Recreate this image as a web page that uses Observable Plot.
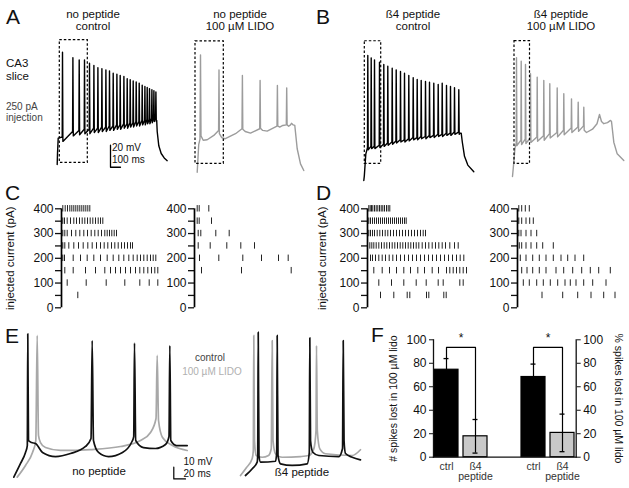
<!DOCTYPE html>
<html><head><meta charset="utf-8">
<script src="https://cdn.jsdelivr.net/npm/d3@7"></script>
<script src="https://cdn.jsdelivr.net/npm/@observablehq/plot@0.6"></script>
<style>
body{margin:0;background:#fff;}
#fig{position:relative;width:629px;height:488px;overflow:hidden;font-family:"Liberation Sans",Arial,sans-serif;color:#111;background:#fff;}
#fig svg{overflow:visible;}
.tx{position:absolute;white-space:nowrap;}
</style></head><body><div id="fig"></div>
<script>
// ---------------- DATA ----------------
// Panel A, no peptide control (ms, mV)
const aCtrlT    = [53,157,220,273,323,367,407,447,487,523,560,597,630,667,700,730,760,790,820,850,877,900,923,947,967,987];
const aCtrlPeak = [32,27,25,25,22,20,18,17,16,15,13,12,11,10,8,7,6,5,4,2,1,0,-1,-2,-3,-4];
const aCtrlThr  = [-45,-40,-39,-38,-38,-37,-37,-36,-36,-35,-35,-34,-34,-33,-33,-32,-32,-31,-31,-30,-30,-29,-29,-28,-27,-27];
const aCtrlAhp  = [-49,-44,-43,-42,-42,-41,-41,-40,-40,-39,-39,-38,-38,-37,-37,-36,-36,-35,-35,-34,-34,-33,-33,-32,-31,-31];
const aCtrlPre  = [[0,-70],[3,-60],[10,-46]];
const aCtrlPost = [[995,-30],[1000,-40],[1016,-53],[1040,-60],[1070,-64],[1100,-66.5]];
// Panel A, no peptide + 100 µM LIDO
const aLido = [[0,-70],[15,-45],[28,-40],[33,36.7],[38,-37],[60,-41],[100,-40.5],[166,-36.6],[214,-32],
  [218,23],[222,-35],[245,-38.5],[276,-39.6],[383,-35],[448,-30.5],[452,18],[456,-31],[480,-33],[533,-34.5],
  [625,-30.5],[629,13.4],[633,-30],[655,-32],[700,-32.7],[798,-28.2],[802,8.8],[806,-28],[825,-29],[856,-27.5],
  [891,-27],[895,6.7],[899,-27],[915,-28.2],[933,-27],[943,-25.5],[960,-27],[976,-27.5],[1000,-48.7],[1033,-62.4],[1066,-68.5]];
// Panel B, ß4 peptide control
const bCtrlT    = [40,74,107,157,200,240,284,324,367,407,450,494,534,574,617,657,700,744,784,827,867,907,950];
const bCtrlPeak = [43.6,41.5,39.7,37.5,35.5,33.9,32.1,30.6,29.1,27.5,25.5,23.4,21.8,20.9,20,19.4,18.5,17.3,18.5,16.4,15.5,14.3,12.5];
const bCtrlThr  = [-40,-39,-39,-38,-37,-36,-35,-34,-33,-33,-32,-31,-31,-30,-30,-29,-29,-28,-28,-27,-27,-26,-26];
const bCtrlAhp  = [-42,-41,-41,-40,-39,-38,-37,-36,-35,-35,-34,-33,-33,-32,-32,-31,-31,-30,-30,-29,-29,-28,-28];
const bCtrlPre  = [[0,-70],[5,-66],[20,-46]];
const bCtrlPost = [[960,-27],[974,-27],[985,-35],[1007,-48],[1040,-56],[1100,-62]];
// Panel B, ß4 peptide + 100 µM LIDO
const bLidoT    = [40,87,130,180,247,313,373,447,513,590,657,713];
const bLidoPeak = [37.9,34.8,31.8,23.4,20.3,17.3,14.3,10.6,5.2,0.6,-2.5,-7];
const bLidoThr  = [-40,-37,-36,-35,-34,-33,-31,-30,-28,-26,-25,-24];
const bLidoAhp  = [-42,-41,-40,-39,-38,-37,-35,-34,-32,-30,-29,-28];
const bLidoPre  = [[0,-70],[8,-62],[25,-44]];
const bLidoPost = [[740,-30],[800,-27],[845,-22],[870,-13.6],[890,-20],[913,-22],[950,-21],[980,-19],[990,-20],[1013,-38.8],[1047,-49.4],[1113,-55.5]];
// expanded windows (ms) marked by dashed boxes
const windowACtrl = [26, 306], windowALido = [-17, 266], windowBCtrl = [10, 174], windowBLido = [20, 175];

// Panels C / D: spike times (ms) per injected current (pA)
const rasterCCtrl = [
  [400,[3,27,50,73,93,113,133,153,173,193,213,233,253,273]],
  [350,[3,20,47,80,113,140,170,197,223,250,277,303,330,357,380,403]],
  [300,[3,23,47,90,133,173,213,250,287,323,357,390,423,447,470,493,517,540]],
  [250,[3,23,63,113,160,207,253,297,340,380,417,453,490,523,557,590,620,650,680,700]],
  [200,[3,20,107,180,247,313,380,447,507,563,613,663,707,747,780,813,847,880,907,933]],
  [150,[23,107,230,330,423,480,530,580,630,680,730,773,813,853,890,923,953]],
  [100,[47,237,437,623,773,867,953]],
  [50,[153]]];
const rasterCLido = [
  [400,[17,37,133]],[350,[17,37,160]],[300,[27,53,203,337]],[250,[27,147,313,453,590]],
  [200,[40,233,473,660,830,927]],[150,[60,460,957]]];
const rasterDCtrl = [
  [400,[3,17,30,43,60,77,93,110,127,143,160,180,197,213]],
  [350,[3,20,40,60,80,100,120,140,160,180,200,220,240,260,280,300,320,340,360,377]],
  [300,[3,20,40,60,87,113,140,167,193,220,250,280,310,340,370,400,430,460,490,520,547,570]],
  [250,[13,33,53,77,103,130,157,183,210,237,263,290,317,343,370,397,423,450,477,503,537,570,603,637,670,703,737,770,813,860,897]],
  [200,[20,40,70,103,137,170,207,243,280,320,360,400,440,480,520,560,600,640,680,720,760,800,840,880,917,953]],
  [150,[53,137,210,280,353,420,493,560,637,700,780,813,847,880,913,947,980]],
  [100,[103,230,353,477,577,697,747,913,947]],
  [50,[120,253,387,413,580,603,753,777]]];
const rasterDLido = [
  [400,[3,32,68,108]],[350,[3,32,75,112,148]],[300,[3,25,75,125,182]],[250,[8,32,75,125,182,242,348]],
  [200,[18,75,142,208,275,348,425,492,565,652]],
  [150,[32,85,142,208,275,375,452,542,632,718,802,918]],
  [100,[48,108,182,248,318,392,465,518,575,652,742,875]],
  [50,[235,442,592,725,852,965]]];
const currentTicks = [0,100,200,300,400], currentMinor = [50,150,250,350];

// Panel E: expanded traces (ms, mV)
const eNoPepCtrl = [[0,-78.5],[11.5,-66.8],[20,-57.4],[23.1,-51.5],[23.9,44],[25.1,-47.2],[30.3,-48.9],[37.1,-49.7],
  [49.1,-57.4],[71.3,-60.9],[96.9,-58.3],[122.6,-52.3],[132,-45.5],[134,38.3],[136.2,-47.2],[144.8,-57.4],
  [161.9,-60.9],[185.8,-57.4],[201.2,-48.9],[205,-43.8],[206.3,36],[208.4,-47.2],[221.7,-53.2],[242.2,-54],
  [259.3,-50.6],[265.3,-43.8],[266.7,34],[268.4,-47.2],[278.1,-51.5],[296.4,-51.5]];
const eNoPepLido = [[5.8,-78.5],[20,-68.5],[32,-57.4],[37.6,-47.2],[40,42.6],[42.2,-42.9],[45.6,-48.9],[54.2,-53.2],
  [79.8,-55.7],[131.1,-54.9],[182.4,-52.3],[216.6,-47.2],[233.7,-40.3],[243.1,-28.4],[245.1,25.5],[247.4,-30.1],
  [254.2,-44.6],[271.3,-51.5],[296.4,-55.7]];
const eB4Ctrl = [[8.5,-77.1],[20.5,-71.1],[28.5,-65.7],[29.4,-60],[30.3,45.4],[31.6,-60],[34.2,-65.7],[59.8,-64.9],
  [61.9,-57.4],[62.7,42.6],[64.1,-60],[68.4,-67.1],[88.4,-68.5],[114,-67.1],[117.6,-57.4],[118.5,40.6],[119.7,-47.2],
  [123.6,-57.2],[133.9,-60],[168.1,-60.9],[174.4,-54],[175.6,38.3],[177,-47.2],[179.5,-58.3],[191,-61.5],[205.1,-63.7]];
const eB4Lido = [[0,-77.1],[10.3,-70.3],[20,-62.6],[21.9,-55.7],[22.7,42.6],[23.9,-47.2],[26.8,-60],[37.1,-61.5],
  [47.9,-60],[52.6,-54],[54.2,38.3],[55.6,-47.2],[59.8,-58.5],[71.3,-61.5],[102.6,-60.9],[116.8,-60],[125.3,-54.3],
  [129.1,-38.6],[129.9,34],[131.3,-38.6],[135.6,-54.3],[145.3,-58.5],[191,-60],[205.1,-55.1]];

// Panel F: spikes lost in 100 µM lido
const fGroups = ["#", "#", "%", "%"];
const fConds  = ["ctrl", "ß4 peptide", "ctrl", "ß4 peptide"];
const fMeans  = [74.5, 17.8, 68.3, 20.7];
const fErrs   = [9.5, 14.3, 11, 16];
const fSigY   = 93.5;
const fTicks  = [0,20,40,60,80,100];

// ---------------- DRAWING ----------------
const W = 629, H = 488;
const FONT = '"Liberation Sans", Arial, Helvetica, sans-serif';
const baseStyle = {fontFamily: FONT, background: "transparent", overflow: "visible", color: "#111"};
const fig = document.getElementById("fig");
function place(el, left = 0, top = 0) {
  el.style.position = "absolute"; el.style.left = left + "px"; el.style.top = top + "px";
  fig.appendChild(el);
}
function text(str, x, y, {size = 11.5, color = "#111", align = "center"} = {}) {
  const d = document.createElement("div");
  d.className = "tx"; d.textContent = str;
  d.style.fontSize = size + "px"; d.style.lineHeight = size + "px"; d.style.color = color;
  d.style.left = x + "px"; d.style.top = (y - size / 2) + "px";
  if (align === "center") d.style.transform = "translateX(-50%)";
  fig.appendChild(d);
}
function spikeTrain(pre, t, peak, thr, ahp, post) {
  const pts = pre.slice();
  t.forEach((ti, i) => pts.push([ti - 3, thr[i]], [ti, peak[i]], [ti + 4, ahp[i]]));
  return pts.concat(post);
}
// full-figure overlay with a trace coordinate system: t=0 at pixel x0, v=vref at pixel y0
function overlay({x0, y0, kx, ky, vref}, marks) {
  const p = Plot.plot({
    width: W, height: H, margin: 0, axis: null,
    x: {type: "linear", domain: [-x0 / kx, (W - x0) / kx], range: [0, W]},
    y: {type: "linear", domain: [vref - (H - y0) / ky, vref + y0 / ky], range: [H, 0]},
    style: baseStyle, marks
  });
  place(p, 0, 0);
}
const tr = (pts, stroke, sw = 1.4, curve = "linear") =>
  Plot.line(pts, {x: d => d[0], y: d => d[1], stroke, strokeWidth: sw, curve, strokeLinejoin: "round"});
const box = (win, vlo, vhi) =>
  Plot.rect([win], {x1: d => d[0], x2: d => d[1], y1: vlo, y2: vhi, fill: "none", stroke: "#000", strokeWidth: 1.2, strokeDasharray: "2.5,2"});

const BLACK = "#000", GREY = "#9c9c9c";
// Panel A
overlay({x0: 56.7, y0: 164, kx: 0.1, ky: 1.1, vref: -70}, [
  tr(spikeTrain(aCtrlPre, aCtrlT, aCtrlPeak, aCtrlThr, aCtrlAhp, aCtrlPost), BLACK),
  box(windowACtrl, -68.5, 43),
  Plot.line([[533, -52.5], [533, -72.5], [633, -72.5]], {x: d => d[0], y: d => d[1], stroke: "#000", strokeWidth: 1.3})
]);
overlay({x0: 196.7, y0: 171.7, kx: 0.1, ky: 1.1, vref: -70}, [
  tr(aLido, GREY), box(windowALido, -62.4, 49)
]);
// Panel B
overlay({x0: 363.3, y0: 180, kx: 0.1, ky: 1.1, vref: -70}, [
  tr(spikeTrain(bCtrlPre, bCtrlT, bCtrlPeak, bCtrlThr, bCtrlAhp, bCtrlPost), BLACK),
  box(windowBCtrl, -54.8, 56.6)
]);
overlay({x0: 512, y0: 176, kx: 0.1, ky: 1.1, vref: -70}, [
  tr(spikeTrain(bLidoPre, bLidoT, bLidoPeak, bLidoThr, bLidoAhp, bLidoPost), GREY),
  box(windowBLido, -58.5, 53)
]);
// Panel E
overlay({x0: 13.3, y0: 455, kx: 0.585, ky: 1.17, vref: -60}, [
  tr(eNoPepLido, "#a8a8a8", 1.7, "monotone-x"),
  tr(eNoPepCtrl, "#111", 1.7, "monotone-x"),
  Plot.line([[273.5, -70], [273.5, -80], [293.5, -80]], {x: d => d[0], y: d => d[1], stroke: "#000", strokeWidth: 1.2})
]);
overlay({x0: 240, y0: 455, kx: 0.585, ky: 1.17, vref: -60}, [
  tr(eB4Lido, "#a8a8a8", 1.7, "monotone-x"),
  tr(eB4Ctrl, "#111", 1.7, "monotone-x")
]);

// Panels C / D rasters
function raster(rows, axisPx, ylabel, labelDx) {
  const data = rows.flatMap(([cur, ts]) => ts.map(t => ({cur, t})));
  const mL = 61;
  const p = Plot.plot({
    width: mL + 101 + 14, height: 130, marginLeft: mL, marginRight: 14, marginTop: 18.3, marginBottom: 12.7,
    x: {domain: [-10, 1000], axis: null},
    y: {domain: [0, 400], axis: null},
    style: baseStyle,
    marks: [
      Plot.ruleX(data, {x: "t", y1: d => d.cur - 13, y2: d => d.cur + 13, stroke: "#222", strokeWidth: 1}),
      Plot.axisY({ticks: currentTicks, tickSize: 6, tickPadding: 2, fontSize: 12, label: null, strokeWidth: 1.3}),
      Plot.axisY({ticks: currentMinor, tickSize: 6, tickFormat: () => "", label: null, strokeWidth: 1.3}),
      Plot.ruleX([-10], {stroke: "#000", strokeWidth: 1.7}),
      ylabel ? Plot.text([ylabel], {frameAnchor: "left", textAnchor: "middle", dx: labelDx, rotate: -90, fontSize: 11.5}) : null
    ]
  });
  place(p, axisPx - mL, 190);
}
raster(rasterCCtrl, 61, "injected current (pA)", -51);
raster(rasterCLido, 194, null, 0);
raster(rasterDCtrl, 367.3, "injected current (pA)", -45);
raster(rasterDLido, 516.7, null, 0);

// Panel F bars
const fKey = (g, c) => g + "|" + c;
const fBars = fMeans.map((m, i) => ({key: fKey(fGroups[i], fConds[i]), cond: fConds[i], group: fGroups[i], mean: m, err: fErrs[i]}));
const fDomain = [fKey("#", "ctrl"), fKey("#", "ß4 peptide"), "gap", fKey("%", "ctrl"), fKey("%", "ß4 peptide")];
const fBrackets = ["#", "%"].flatMap(g => {
  const c = fBars.find(d => d.group === g && d.cond === "ctrl");
  const b = fBars.find(d => d.group === g && d.cond !== "ctrl");
  return [[c.key, c.mean + c.err, g], [c.key, fSigY, g], [b.key, fSigY, g], [b.key, b.mean + b.err, g]];
});
const fPlot = Plot.plot({
  width: 259, height: 168, marginLeft: 63, marginRight: 53.3, marginTop: 19.3, marginBottom: 31.3,
  x: {domain: fDomain, paddingInner: 0.18, paddingOuter: 0.03, axis: null},
  y: {domain: [0, 100], axis: null},
  color: {type: "identity"},
  style: baseStyle,
  marks: [
    Plot.barY(fBars, {x: "key", y: "mean", fill: d => d.cond === "ctrl" ? "#000" : "#c9c9c9", stroke: "#000", strokeWidth: 1.2}),
    Plot.ruleX(fBars, {x: "key", y1: d => d.cond === "ctrl" ? d.mean : d.mean - d.err, y2: d => d.mean + d.err, stroke: "#000", strokeWidth: 1.2}),
    Plot.tickY(fBars, {x: "key", y: d => d.mean + d.err, insetLeft: 9.5, insetRight: 9.5, stroke: "#000", strokeWidth: 1.3}),
    Plot.tickY(fBars.filter(d => d.cond !== "ctrl"), {x: "key", y: d => d.mean - d.err, insetLeft: 9.5, insetRight: 9.5, stroke: "#000", strokeWidth: 1.3}),
    Plot.line(fBrackets, {x: d => d[0], y: d => d[1], z: d => d[2], stroke: "#000", strokeWidth: 1.2}),
    Plot.text(fBars.filter(d => d.cond === "ctrl"), {x: "key", y: 101, text: () => "*", dx: 14.6, fontSize: 12}),
    Plot.axisY({anchor: "left", ticks: fTicks, tickSize: 4, tickPadding: 3, fontSize: 12, label: null}),
    Plot.axisY({anchor: "right", ticks: fTicks, tickSize: 4, tickPadding: 3, fontSize: 12, label: null}),
    Plot.axisX({ticks: fDomain.filter(k => k !== "gap"), tickSize: 0, tickPadding: 5, fontSize: 10.5, fill: "#333",
      tickFormat: k => k.split("|")[1].replace(" ", "\n"), label: null}),
    Plot.frame({anchor: "left", strokeWidth: 1.3}),
    Plot.frame({anchor: "right", strokeWidth: 1.3}),
    Plot.frame({anchor: "bottom", strokeWidth: 1.3}),
    Plot.text(["# spikes lost in 100 µM lido"], {frameAnchor: "left", textAnchor: "middle", dx: -40, rotate: -90, fontSize: 10.5}),
    Plot.text(["% spikes lost in 100 µM lido"], {frameAnchor: "right", textAnchor: "middle", dx: 42, rotate: 90, fontSize: 10.5})
  ]
});
place(fPlot, 370, 320);

// ---------------- TEXT ----------------
const L = 21;
text("A", 6, 16, {size: L, align: "left"});
text("B", 316, 16, {size: L, align: "left"});
text("C", 5, 192, {size: L, align: "left"});
text("D", 316, 192, {size: L, align: "left"});
text("E", 5, 335, {size: L, align: "left"});
text("F", 371, 334, {size: L, align: "left"});
text("no peptide", 93, 15); text("control", 93, 26.5);
text("no peptide", 240, 15); text("100 µM LIDO", 240, 26.5);
text("ß4 peptide", 413, 15); text("control", 413, 26.5);
text("ß4 peptide", 561, 15); text("100 µM LIDO", 561, 26.5);
text("CA3", 6, 64, {align: "left"}); text("slice", 6, 76.5, {align: "left"});
text("250 pA", 6, 107, {size: 10, color: "#444", align: "left"}); text("injection", 6, 118, {size: 10, color: "#444", align: "left"});
text("20 mV", 112, 148, {size: 10, align: "left"}); text("100 ms", 112, 160, {size: 10, align: "left"});
text("control", 210, 358, {size: 10, color: "#444"});
text("100 µM LIDO", 212, 372, {size: 10, color: "#b0b0b0"});
text("no peptide", 99, 472);
text("ß4 peptide", 302, 473);
text("10 mV", 183.5, 462, {size: 10, align: "left"}); text("20 ms", 183.5, 474, {size: 10, align: "left"});
</script></body></html>
